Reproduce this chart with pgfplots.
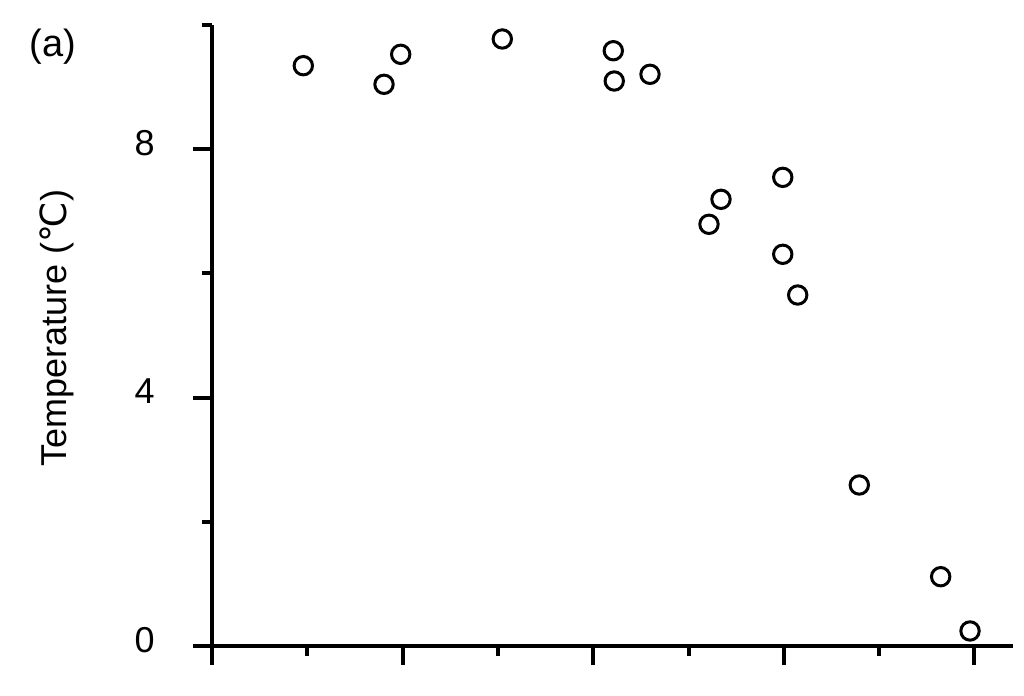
\documentclass[border=0pt]{standalone}
\usepackage{pgfplots}
\pgfplotsset{compat=1.18}
\usepackage{fontspec}
\setmainfont{Liberation Sans}
\newfontfamily\dejavu{DejaVu Sans}

\begin{document}
\begin{tikzpicture}
\begin{axis}[
  scale only axis,
  width=400.5pt, height=310.5pt,
  xmin=0, xmax=8.405, ymin=0, ymax=10,
  axis lines=left,
  axis line style={-, line width=2.2pt},
  tick align=outside,
  tick style={line width=2pt, black},
  major tick length=9.5pt, minor tick length=5pt,
  xtick={0,2,4,6,8}, minor xtick={1,3,5,7}, xticklabels={},
  ytick={0,4,8}, minor ytick={2,6,10},
  yticklabels={{\fontsize{18}{18}\selectfont 0},{\fontsize{18}{18}\selectfont 4},{\fontsize{18}{18}\selectfont 8}},
  yticklabel style={anchor=east, inner sep=0pt, xshift=-19pt, yshift=3pt},
  clip=false,
]
  \addplot[only marks, mark=o, mark size=4.6pt, line width=1.5pt, black]
    coordinates{
      (0.958,9.345)(1.805,9.045)(1.980,9.528)(3.046,9.775)
      (4.211,9.586)(4.221,9.098)(4.596,9.206)
      (5.215,6.791)(5.341,7.193)(5.989,7.547)(5.989,6.308)(6.146,5.652)
      (6.792,2.593)(7.646,1.116)(7.954,0.242)};
  \node[font=\fontsize{19}{19}\selectfont] at (axis cs:-1.67,9.646) {(a)};
  \node[rotate=90, inner sep=0pt, font=\fontsize{18}{18}\selectfont]
    at (axis cs:-1.626,5.12) {Temperature ({\dejavu ℃})};
  \path (axis cs:-2.2246,10.4026) rectangle (axis cs:8.5205,-0.805);
\end{axis}
\end{tikzpicture}
\end{document}
